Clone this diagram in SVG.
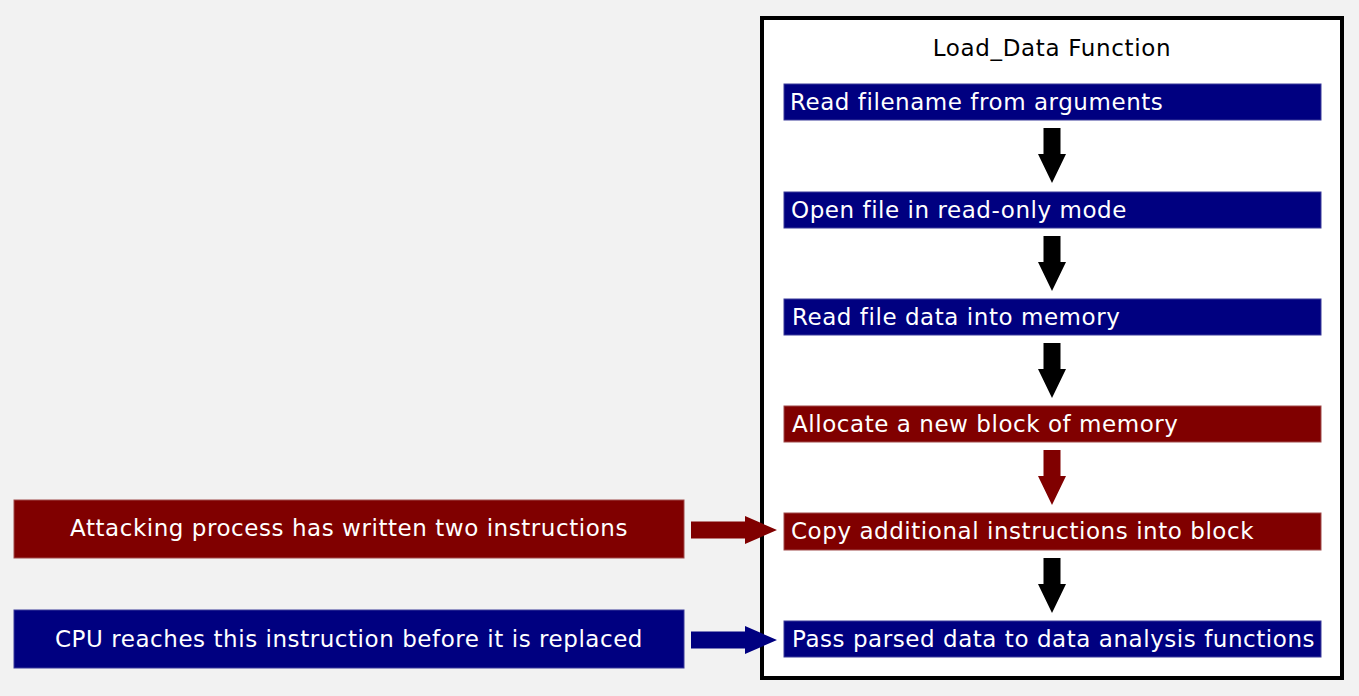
<svg xmlns="http://www.w3.org/2000/svg" width="1359" height="696" viewBox="0 0 1359 696">
<style>
text{font-family:"DejaVu Sans",Verdana,sans-serif;font-size:23px;letter-spacing:0.55px}
.lbl{fill:#fff}
.blue{fill:#000080;stroke:#3a3a9a;stroke-width:1}
.red{fill:#800000;stroke:#a04a4a;stroke-width:1}
</style>
<defs>
<path id="down" d="M-8.5,0 H8.5 V26 H14 L0,55 L-14,26 H-8.5 Z"/>
<path id="right" d="M0,-8.5 H54 V-14 L86,0 L54,14 V8.5 H0 Z"/>
</defs>
<rect width="1359" height="696" fill="#f2f2f2"/>
<g id="container">
<rect x="762" y="18" width="580" height="660" fill="#fff" stroke="#000" stroke-width="4"/>
<text x="1052" y="56" text-anchor="middle" style="letter-spacing:0.65px">Load_Data Function</text>
</g>
<g id="n1"><rect class="blue" x="784" y="84" width="537" height="36"/><text class="lbl" x="790" y="110">Read filename from arguments</text></g>
<g id="n2"><rect class="blue" x="784" y="192" width="537" height="36"/><text class="lbl" x="791" y="218">Open file in read-only mode</text></g>
<g id="n3"><rect class="blue" x="784" y="299" width="537" height="36"/><text class="lbl" x="792" y="325">Read file data into memory</text></g>
<g id="n4"><rect class="red" x="784" y="406" width="537" height="36"/><text class="lbl" x="792" y="432">Allocate a new block of memory</text></g>
<g id="n5"><rect class="red" x="784" y="513" width="537" height="37"/><text class="lbl" x="791" y="539">Copy additional instructions into block</text></g>
<g id="n6"><rect class="blue" x="784" y="621" width="537" height="36"/><text class="lbl" x="792" y="647">Pass parsed data to data analysis functions</text></g>
<g id="a1"><rect class="red" x="14" y="500" width="670" height="58"/><text class="lbl" x="349" y="536" text-anchor="middle">Attacking process has written two instructions</text></g>
<g id="a2"><rect class="blue" x="14" y="610" width="670" height="58"/><text class="lbl" x="349" y="647" text-anchor="middle">CPU reaches this instruction before it is replaced</text></g>
<g id="connectors">
<use href="#down" x="1052" y="128" fill="#000"/>
<use href="#down" x="1052" y="236" fill="#000"/>
<use href="#down" x="1052" y="343" fill="#000"/>
<use href="#down" x="1052" y="450" fill="#800000"/>
<use href="#down" x="1052" y="558" fill="#000"/>
<use href="#right" x="691" y="530" fill="#800000"/>
<use href="#right" x="691" y="640" fill="#000080"/>
</g>
</svg>
